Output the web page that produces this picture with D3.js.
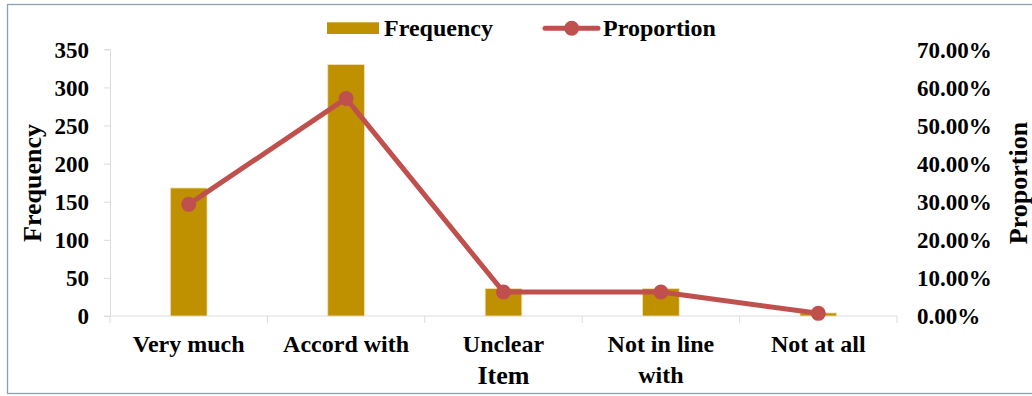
<!DOCTYPE html>
<html>
<head>
<meta charset="utf-8">
<script src="https://cdn.jsdelivr.net/npm/d3@7"></script>
<style>
  html, body { margin: 0; padding: 0; background: #fff; }
  svg { display: block; }
  text { font-family: "Liberation Serif", "Times New Roman", serif; font-weight: bold; fill: #000; }
</style>
</head>
<body>
<svg id="chart" width="1032" height="396"></svg>
<script>
// Response categories and their counts / shares
const categories = ["Very much", "Accord with", "Unclear", "Not in line with", "Not at all"];
const categoryLines = [["Very much"], ["Accord with"], ["Unclear"], ["Not in line", "with"], ["Not at all"]];
const frequency = [168, 330, 36, 36, 4];
const proportion = [0.293, 0.571, 0.063, 0.063, 0.007];
const freqTicks = [0, 50, 100, 150, 200, 250, 300, 350];
const propTicks = [0, 0.1, 0.2, 0.3, 0.4, 0.5, 0.6, 0.7];

const svg = d3.select("#chart");
const W = 1032, H = 396;
const plot = { left: 110, right: 897, top: 49.3, bottom: 316 };

const barColor = "#bf9000";
const lineColor = "#c0504d";
const axisColor = "#d9dde1";

// outer chart frame
svg.append("rect")
  .attr("x", 7.5).attr("y", 4.5)
  .attr("width", W + 10).attr("height", 389)
  .attr("fill", "#fff").attr("stroke", "#8ea2ad").attr("stroke-width", 1.3);

const x = d3.scaleBand().domain(categories).range([plot.left, plot.right]).paddingInner(0).paddingOuter(0);
const yL = d3.scaleLinear().domain([0, 350]).range([plot.bottom, plot.top]);
const yR = d3.scaleLinear().domain([0, 0.7]).range([plot.bottom, plot.top]);

// left axis
const gL = svg.append("g").attr("transform", `translate(${plot.left},0)`)
  .call(d3.axisLeft(yL).tickValues(freqTicks).tickSize(6).tickPadding(15).tickFormat(d3.format("d")));
gL.select(".domain").attr("stroke", axisColor);
gL.selectAll(".tick line").attr("stroke", axisColor);
gL.selectAll(".tick text").style("font-size", "23px").attr("dy", "0.34em");

// right axis (labels only)
const gR = svg.append("g").attr("transform", `translate(${plot.right},0)`)
  .call(d3.axisRight(yR).tickValues(propTicks).tickSize(0).tickPadding(20).tickFormat(d3.format(".2%")));
gR.select(".domain").remove();
gR.selectAll(".tick text").style("font-size", "23px").attr("dy", "0.34em");

// category axis
const gX = svg.append("g").attr("transform", `translate(0,${plot.bottom})`);
gX.append("line").attr("x1", plot.left - 6).attr("x2", plot.right)
  .attr("stroke", axisColor).attr("stroke-width", 1);
const bounds = categories.map(c => x(c)).concat([x(categories[categories.length - 1]) + x.bandwidth()]);
gX.selectAll("line.tk").data(bounds).join("line").attr("class", "tk")
  .attr("x1", d => d).attr("x2", d => d).attr("y1", 0).attr("y2", 7)
  .attr("stroke", axisColor);
gX.selectAll("text.cat").data(categories).join("text").attr("class", "cat")
  .attr("x", d => x(d) + x.bandwidth() / 2)
  .attr("text-anchor", "middle")
  .style("font-size", "24px")
  .each(function (d, i) {
    const t = d3.select(this);
    categoryLines[i].forEach((ln, k) => {
      t.append("tspan").attr("x", x(d) + x.bandwidth() / 2).attr("y", 36 + k * 31).text(ln);
    });
  });

// bars
const barW = x.bandwidth() * 0.233;
svg.append("g").selectAll("rect").data(frequency).join("rect")
  .attr("x", (d, i) => x(categories[i]) + x.bandwidth() / 2 - barW / 2)
  .attr("width", barW)
  .attr("y", d => yL(d))
  .attr("height", d => plot.bottom - yL(d))
  .attr("fill", barColor)
  .attr("stroke", "#f2e3b0").attr("stroke-width", 0.8);

// proportion line
const line = d3.line()
  .x((d, i) => x(categories[i]) + x.bandwidth() / 2)
  .y(d => yR(d));
svg.append("path").datum(proportion)
  .attr("d", line).attr("fill", "none")
  .attr("stroke", lineColor).attr("stroke-width", 5).attr("stroke-linejoin", "round");
svg.append("g").selectAll("circle").data(proportion).join("circle")
  .attr("cx", (d, i) => x(categories[i]) + x.bandwidth() / 2)
  .attr("cy", d => yR(d))
  .attr("r", 7.5).attr("fill", lineColor);

// axis titles
svg.append("text")
  .attr("transform", `translate(41,183) rotate(-90)`)
  .attr("text-anchor", "middle").style("font-size", "26px").text("Frequency");
svg.append("text")
  .attr("transform", `translate(1027,183) rotate(-90)`)
  .attr("text-anchor", "middle").style("font-size", "26px").text("Proportion");
svg.append("text")
  .attr("x", (plot.left + plot.right) / 2).attr("y", 384)
  .attr("text-anchor", "middle").style("font-size", "26px").text("Item");

// legend
const lg = svg.append("g");
lg.append("rect").attr("x", 327).attr("y", 22.3).attr("width", 52).attr("height", 11.7).attr("fill", barColor);
lg.append("text").attr("x", 384).attr("y", 36).style("font-size", "24px").text("Frequency");
lg.append("line").attr("x1", 545).attr("x2", 598).attr("y1", 28.3).attr("y2", 28.3)
  .attr("stroke", lineColor).attr("stroke-width", 5).attr("stroke-linecap", "round");
lg.append("circle").attr("cx", 571.7).attr("cy", 28.3).attr("r", 7.5).attr("fill", lineColor);
lg.append("text").attr("x", 603).attr("y", 36).style("font-size", "24px").text("Proportion");
</script>
</body>
</html>
